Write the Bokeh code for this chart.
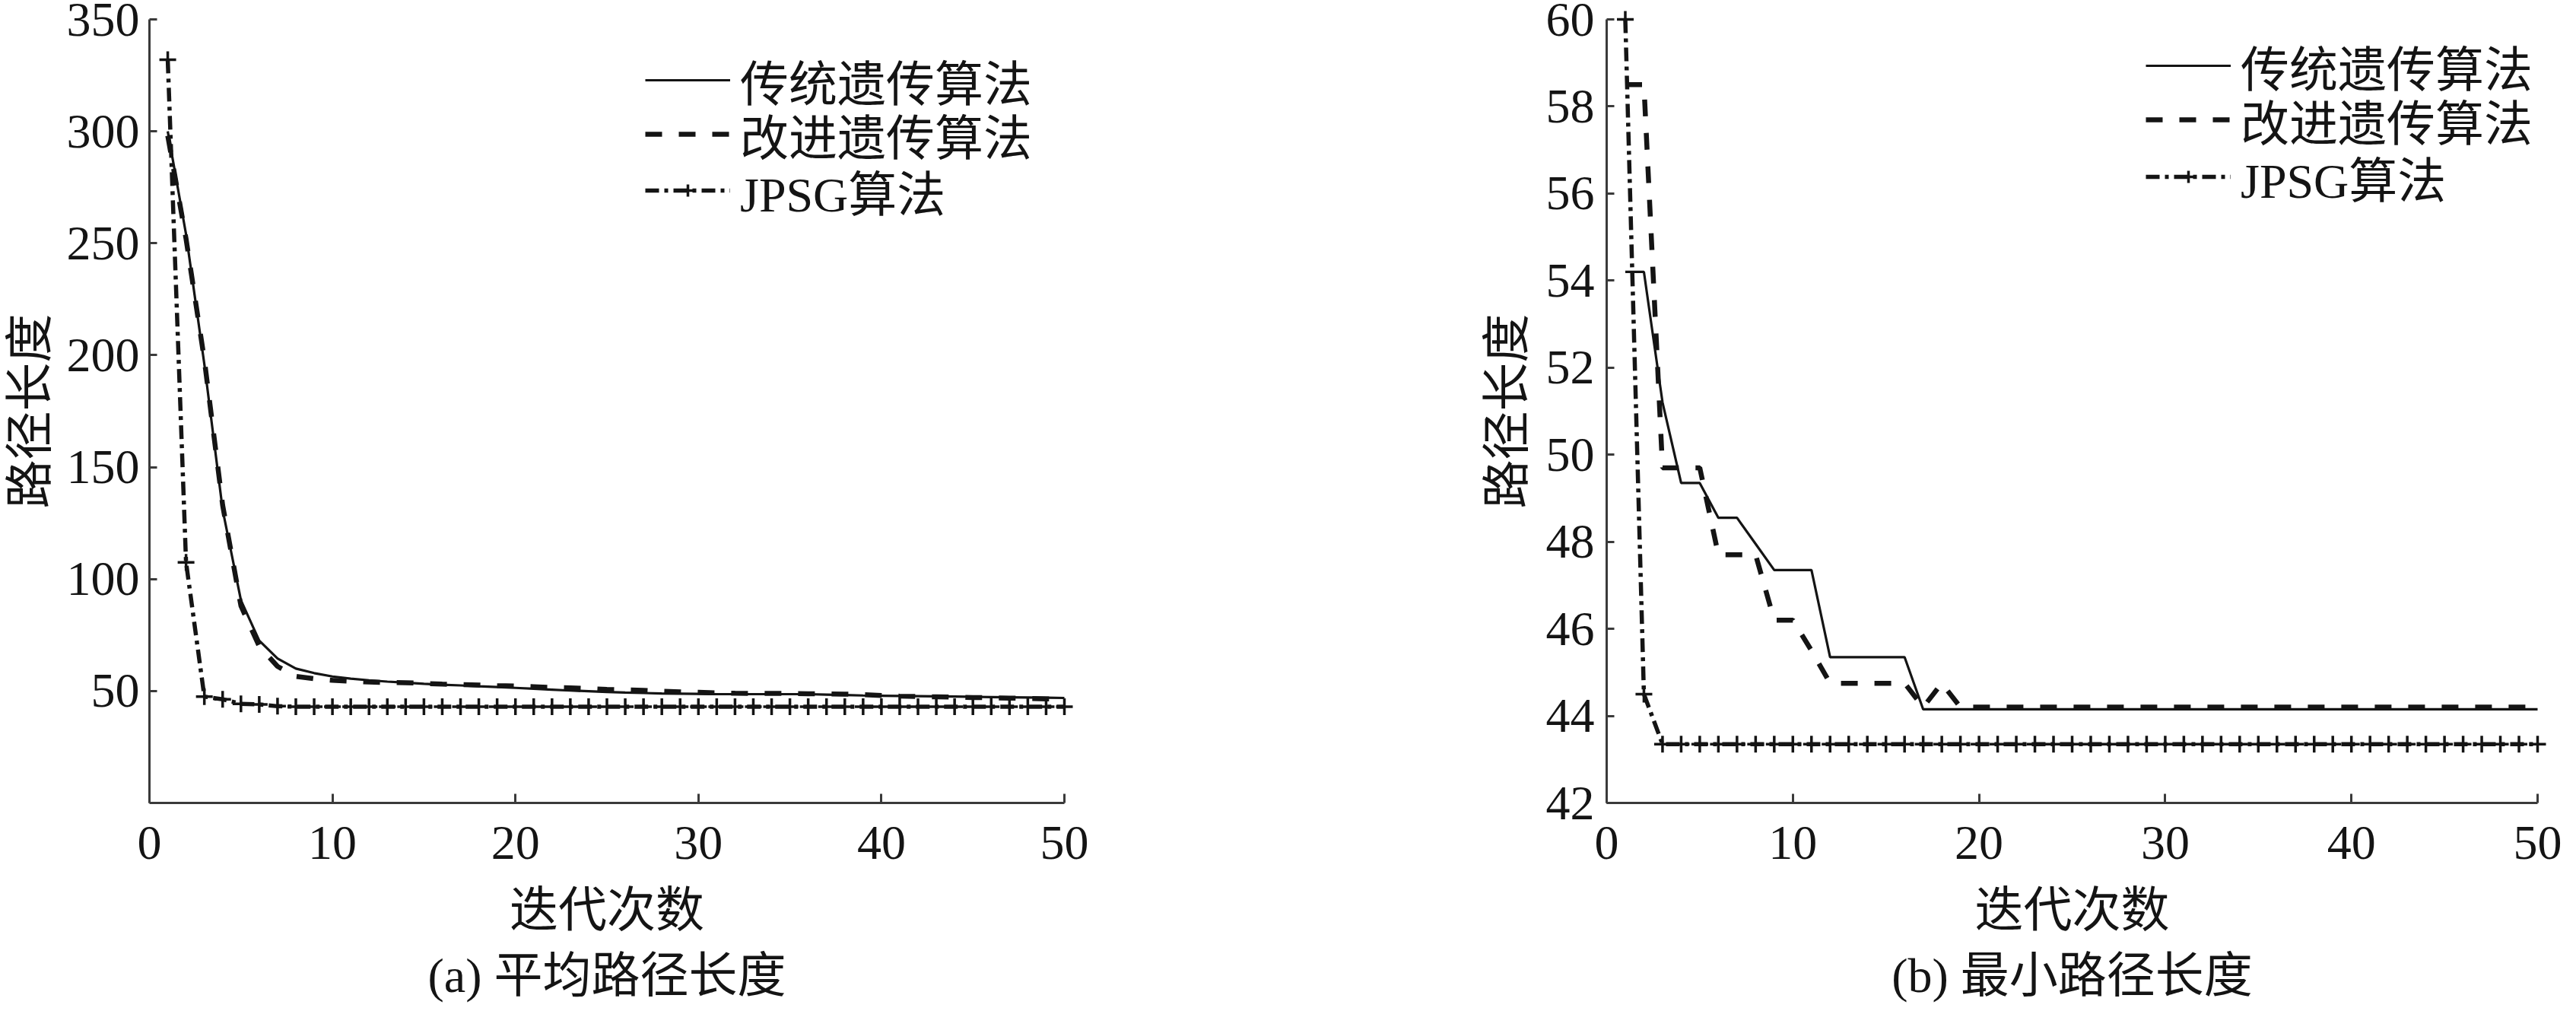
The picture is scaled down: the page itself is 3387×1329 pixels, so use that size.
from bokeh.plotting import figure
from bokeh.layouts import row
from bokeh.models import Range1d, FixedTicker, Legend, LegendItem, Label
from bokeh.embed import file_html
from bokeh.resources import INLINE

iterations = list(range(1, 51))

avg_traditional = [300, 254, 196, 131, 90.5, 72.5, 64.5, 60, 58, 56.5,
                   55.5, 54.8, 54.2, 53.7, 53.2, 52.8, 52.5, 52.1, 51.8, 51.4,
                   51.0, 50.6, 50.2, 49.9, 49.6, 49.3, 49.1, 48.9, 48.8, 48.7,
                   48.6, 48.6, 48.6, 48.6, 48.6, 48.6, 48.4, 48.2, 48.0, 47.9,
                   47.8, 47.7, 47.6, 47.5, 47.4, 47.3, 47.2, 47.1, 47.0, 46.9]
avg_improved = [298, 252, 198, 133, 88, 70, 61, 56.5, 55.5, 54.8,
                54.4, 54.0, 53.8, 53.7, 53.4, 53.1, 52.9, 52.7, 52.4, 52.2,
                51.9, 51.6, 51.4, 51.1, 50.7, 50.5, 50.3, 49.9, 49.6, 49.4,
                49.2, 49.0, 48.9, 48.9, 48.9, 48.8, 48.7, 48.6, 48.4, 48.0,
                47.7, 47.5, 47.4, 47.3, 47.1, 47.0, 46.8, 46.7, 46.5, 46.5]
avg_jpsg = [332, 107.5, 47.5, 46.3, 44.3, 44.0, 43.2, 43.0, 43.0, 43.0,
            43.0, 43.0, 43.0, 43.0, 43.0, 43.0, 43.0, 43.0, 43.0, 43.0,
            43.0, 43.0, 43.0, 43.0, 43.0, 43.0, 43.0, 43.0, 43.0, 43.0,
            43.0, 43.0, 43.0, 43.0, 43.0, 43.0, 43.0, 43.0, 43.0, 43.0,
            43.0, 43.0, 43.0, 43.0, 43.0, 43.0, 43.0, 43.0, 43.0, 43.0]

min_traditional = [54.2, 54.2, 51.2, 49.35, 49.35, 48.55, 48.55, 47.95, 47.35, 47.35,
                   47.35, 45.35, 45.35, 45.35, 45.35, 45.35, 44.15, 44.15, 44.15, 44.15,
                   44.15, 44.15, 44.15, 44.15, 44.15, 44.15, 44.15, 44.15, 44.15, 44.15,
                   44.15, 44.15, 44.15, 44.15, 44.15, 44.15, 44.15, 44.15, 44.15, 44.15,
                   44.15, 44.15, 44.15, 44.15, 44.15, 44.15, 44.15, 44.15, 44.15, 44.15]
min_improved = [58.5, 58.5, 49.7, 49.7, 49.7, 47.7, 47.7, 47.7, 46.2, 46.2,
                45.5, 44.75, 44.75, 44.75, 44.75, 44.75, 44.2, 44.75, 44.2, 44.2,
                44.2, 44.2, 44.2, 44.2, 44.2, 44.2, 44.2, 44.2, 44.2, 44.2,
                44.2, 44.2, 44.2, 44.2, 44.2, 44.2, 44.2, 44.2, 44.2, 44.2,
                44.2, 44.2, 44.2, 44.2, 44.2, 44.2, 44.2, 44.2, 44.2, 44.2]
min_jpsg = [60, 44.5, 43.35, 43.35, 43.35, 43.35, 43.35, 43.35, 43.35, 43.35,
            43.35, 43.35, 43.35, 43.35, 43.35, 43.35, 43.35, 43.35, 43.35, 43.35,
            43.35, 43.35, 43.35, 43.35, 43.35, 43.35, 43.35, 43.35, 43.35, 43.35,
            43.35, 43.35, 43.35, 43.35, 43.35, 43.35, 43.35, 43.35, 43.35, 43.35,
            43.35, 43.35, 43.35, 43.35, 43.35, 43.35, 43.35, 43.35, 43.35, 43.35]

x_ticks = [0, 10, 20, 30, 40, 50]
avg_y_ticks = [50, 100, 150, 200, 250, 300, 350]
min_y_ticks = [42, 44, 46, 48, 50, 52, 54, 56, 58, 60]

series_names = ["传统遗传算法", "改进遗传算法", "JPSG算法"]
x_title = "迭代次数"
y_title = "路径长度"
captions = ["(a) 平均路径长度", "(b) 最小路径长度"]

FONT = "'Liberation Serif', 'Noto Sans CJK SC'"
INK = "#141414"
AXIS = "#3a3a3a"
TOP = 25            # px above the data area
DATA_H = 1030       # px height of the data area
EXTRA = 266         # px below the x axis (tick labels, axis title, caption)
FIG_H = TOP + DATA_H + EXTRA
CAPTION_DROP = 227  # px from the x axis down to the caption centre
X_LO, X_HI = 0, 50


def panel(width, left, data_w, y_lo, y_hi, y_ticks, trad, imp, jp, caption,
          legend_x, legend_rows, tick_standoff, ylabel_standoff):
    per_py = (y_hi - y_lo) / DATA_H
    per_px = (X_HI - X_LO) / data_w
    right = width - left - data_w
    p = figure(width=width, height=FIG_H,
               x_range=Range1d(X_LO - left * per_px, X_HI + right * per_px),
               y_range=Range1d(y_lo - EXTRA * per_py, y_hi + TOP * per_py),
               output_backend="svg", toolbar_location=None,
               min_border_left=0, min_border_right=0,
               min_border_top=0, min_border_bottom=0)
    p.outline_line_color = None
    p.grid.visible = False
    p.background_fill_color = "white"
    p.border_fill_color = "white"

    r1 = p.line(iterations, trad, line_color=INK, line_width=3.2)
    r2 = p.line(iterations, imp, line_color=INK, line_width=6.5, line_dash="22 22")
    r3 = p.line(iterations, jp, line_color=INK, line_width=5.5, line_dash="18 7 5 7")
    r4 = p.scatter(iterations, jp, marker="cross", size=22, line_color=INK, line_width=3.5)

    p.xaxis.ticker = FixedTicker(ticks=x_ticks)
    p.yaxis.ticker = FixedTicker(ticks=y_ticks)
    p.xaxis.fixed_location = y_lo
    p.yaxis.fixed_location = X_LO
    p.xaxis.bounds = (X_LO, X_HI)
    p.yaxis.bounds = (y_lo, y_hi)
    for ax in (p.xaxis[0], p.yaxis[0]):
        ax.axis_line_color = AXIS
        ax.axis_line_width = 3
        ax.major_tick_line_color = AXIS
        ax.major_tick_line_width = 3
        ax.major_tick_out = 0
        ax.minor_tick_out = 0
        ax.minor_tick_in = 0
        ax.minor_tick_line_color = None
        ax.major_label_text_font = FONT
        ax.major_label_text_font_size = "64px"
        ax.major_label_text_color = INK
        ax.axis_label_text_font = FONT
        ax.axis_label_text_font_size = "64px"
        ax.axis_label_text_font_style = "normal"
        ax.axis_label_text_color = INK
    p.xaxis.major_tick_in = 12
    p.yaxis.major_tick_in = 10
    p.xaxis.major_label_standoff = 31
    p.yaxis.major_label_standoff = tick_standoff
    p.xaxis.axis_label = x_title
    p.yaxis.axis_label = y_title
    p.xaxis.axis_label_standoff = 29
    p.yaxis.axis_label_standoff = ylabel_standoff

    renderers = [[r1], [r2], [r3, r4]]
    for name, rs, centre_y in zip(series_names, renderers, legend_rows):
        lg = Legend(items=[LegendItem(label=name, renderers=rs)],
                    location=(legend_x, FIG_H - TOP - (centre_y + 47)))
        lg.label_text_font = FONT
        lg.label_text_font_size = "64px"
        lg.label_text_color = INK
        lg.glyph_width = 112
        lg.glyph_height = 40
        lg.label_standoff = 13
        lg.spacing = 0
        lg.padding = 0
        lg.margin = 0
        lg.border_line_color = None
        lg.background_fill_alpha = 0
        p.add_layout(lg)

    p.add_layout(Label(x=(X_LO + X_HI) / 2, y=y_lo - CAPTION_DROP * per_py, text=caption,
                       text_font=FONT, text_font_size="64px", text_color=INK,
                       text_align="center", text_baseline="middle"))
    return p


# legend x: px from the figure's left edge; legend rows: px below the top of the data area
left_fig = panel(1892, 196, 1203, 0, 350, avg_y_ticks, avg_traditional, avg_improved,
                 avg_jpsg, captions[0], 848, [79, 150, 224], 13, 10)
right_fig = panel(1479, 220, 1224, 42, 60, min_y_ticks, min_traditional, min_improved,
                  min_jpsg, captions[1], 929, [60, 131, 206], 16, 13)

layout = row(left_fig, right_fig)
open("out.html", "w").write(file_html(layout, INLINE))
